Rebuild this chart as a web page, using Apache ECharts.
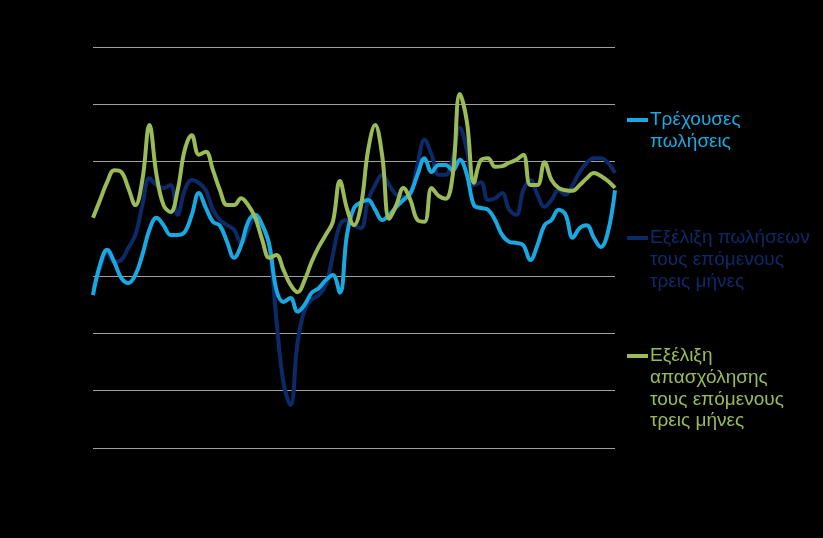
<!DOCTYPE html>
<html>
<head>
<meta charset="utf-8">
<script src="https://cdn.jsdelivr.net/npm/echarts@6/dist/echarts.min.js"></script>
<style>
html, body { margin: 0; padding: 0; background: #000; }
#chart { width: 823px; height: 538px; }
</style>
</head>
<body>
<div id="chart"></div>
<script>
// balance values, one point per period (75 periods)
const currentSales = [
  -13.3, -8.0, -5.4, -7.5, -10.3, -11.2, -9.8, -6.3, -1.9, 0.2,
  -1.1, -2.8, -2.8, -2.3, 0.7, 4.5, 1.9, -0.5, -1.2, -4.0,
  -6.8, -4.6, -0.5, 0.7, -1.1, -4.6, -12.4, -14.5, -13.8, -16.2,
  -15.0, -12.9, -12.1, -10.7, -9.8, -12.9, -2.8, 1.9, 2.9, 3.3,
  1.6, -0.2, 0.7, 2.1, 3.3, 4.5, 7.7, 10.6, 8.2, 9.4,
  9.4, 8.5, 10.3, 7.7, 2.4, 1.9, 1.6, -0.2, -2.8, -4.0,
  -4.2, -4.6, -7.2, -4.6, -1.1, -0.2, 1.6, 0.7, -3.3, -1.6,
  -1.1, -3.3, -4.9, -2.3, 5.0
];
const salesNext3m = [
  -12.4, -8.6, -5.8, -7.5, -7.2, -5.1, -2.8, 2.4, 7.1, 5.9,
  5.4, 5.9, 0.7, 5.0, 6.8, 6.3, 5.0, 1.6, -0.2, -1.1,
  -1.9, -4.2, -1.9, 0.2, -1.1, -4.6, -17.6, -28.6, -32.5, -21.6,
  -15.9, -14.1, -13.3, -11.5, -6.3, -1.1, -0.2, -1.1, -1.6, 3.3,
  5.9, 7.7, 5.9, 4.2, 3.8, 4.2, 9.4, 13.8, 11.2, 7.7,
  7.7, 10.6, 15.9, 12.0, 5.9, 6.4, 3.3, 3.6, 4.5, 1.6,
  0.7, 5.0, 6.8, 4.2, 2.1, 3.3, 5.0, 4.2, 5.9, 8.2,
  9.8, 10.6, 10.6, 9.8, 8.0
];
const employmentNext3m = [
  0.2, 3.3, 6.4, 8.5, 8.2, 5.4, 2.4, 6.8, 16.4, 7.7,
  2.4, 1.2, 5.0, 12.0, 14.6, 11.2, 11.7, 8.5, 5.0, 2.4,
  2.4, 3.6, 2.4, 0.2, -3.7, -6.8, -6.3, -8.9, -11.5, -12.8,
  -10.7, -7.5, -4.9, -2.8, -0.5, 6.6, 1.8, -1.1, 2.4, 12.0,
  16.4, 11.0, 0.0, 2.4, 5.4, 3.3, -0.2, -0.5, 5.4, 4.0,
  3.5, 7.7, 21.8, 17.0, 6.3, 10.3, 10.6, 9.1, 9.2, 9.8,
  10.3, 11.2, 5.9, 5.9, 9.9, 6.8, 5.4, 5.0, 4.9, 5.9,
  7.1, 8.0, 7.5, 6.6, 5.4
];
const periods = currentSales.map((v, i) => String(i + 1));
const yTicks = { min: -40, max: 30, interval: 10 };

const names = [
  "Τρέχουσες\nπωλήσεις",
  "Εξέλιξη πωλήσεων\nτους επόμενους\nτρεις μήνες",
  "Εξέλιξη\nαπασχόλησης\nτους επόμενους\nτρεις μήνες"
];
const colors = ["#18a9e3", "#0c2a68", "#9bbb59"];

// legend drawn by hand so the key line sits on the first text line
const lineHeight = 21.7;
const legendRows = [120, 238, 356];
function legendItem(idx) {
  const y = legendRows[idx];
  return [
    {
      type: "rect",
      shape: { x: 627, y: y - 2, width: 21, height: 4 },
      style: { fill: colors[idx] }
    },
    {
      type: "text",
      x: 650,
      y: y - lineHeight / 2,
      style: {
        text: names[idx],
        fill: colors[idx],
        font: "19px 'Liberation Sans', Arial, sans-serif",
        lineHeight: lineHeight,
        verticalAlign: "top",
        align: "left"
      }
    }
  ];
}

let mychart = echarts.init(document.getElementById("chart"));
const option = {
  backgroundColor: "#000000",
  animation: false,
  grid: {
    left: 93,
    right: 208,
    top: 47,
    bottom: 90,
    containLabel: false
  },
  graphic: [].concat(legendItem(0), legendItem(1), legendItem(2)),
  xAxis: {
    type: "category",
    data: periods,
    boundaryGap: false,
    axisTick: { show: false },
    axisLabel: { show: false },
    axisLine: {
      onZero: true,
      lineStyle: { color: "#000000", width: 2 }
    }
  },
  yAxis: {
    type: "value",
    min: yTicks.min,
    max: yTicks.max,
    interval: yTicks.interval,
    axisLine: { show: false },
    axisTick: { show: false },
    axisLabel: { show: false },
    splitLine: {
      lineStyle: {
        color: ["#a0a0a0", "#a0a0a0", "#a0a0a0", "#a0a0a0", "#000000", "#a0a0a0", "#a0a0a0", "#a0a0a0"],
        width: 1
      }
    }
  },
  series: [
    {
      name: names[0],
      type: "line",
      data: currentSales,
      smooth: 0.4,
      showSymbol: false,
      lineStyle: { color: colors[0], width: 4 },
      itemStyle: { color: colors[0] },
      z: 3
    },
    {
      name: names[1],
      type: "line",
      data: salesNext3m,
      smooth: 0.4,
      showSymbol: false,
      lineStyle: { color: colors[1], width: 4 },
      itemStyle: { color: colors[1] },
      z: 2
    },
    {
      name: names[2],
      type: "line",
      data: employmentNext3m,
      smooth: 0.4,
      showSymbol: false,
      lineStyle: { color: colors[2], width: 4 },
      itemStyle: { color: colors[2] },
      z: 4
    }
  ]
};
mychart.setOption(option);
</script>
</body>
</html>
